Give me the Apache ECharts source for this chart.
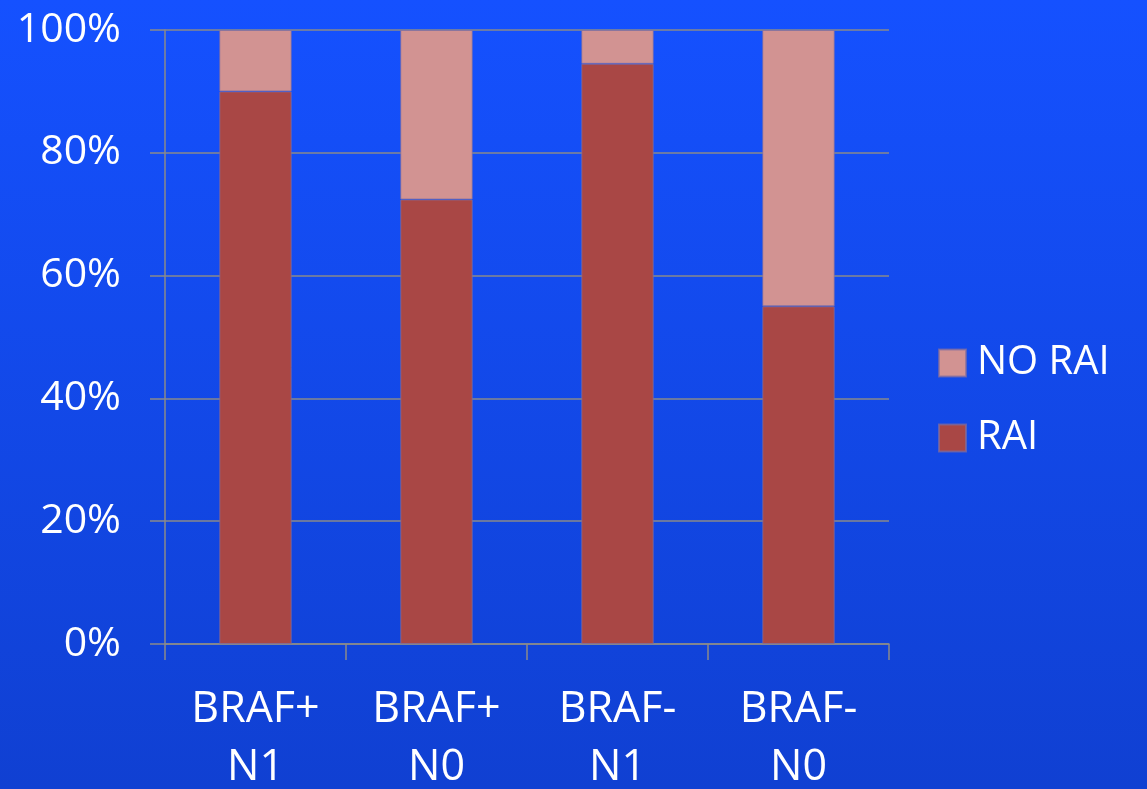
<!DOCTYPE html>
<html>
<head>
<meta charset="utf-8">
<script src="https://cdn.jsdelivr.net/npm/echarts@6/dist/echarts.min.js"></script>
<style>
  html, body { margin: 0; padding: 0; }
  #chart { width: 1147px; height: 789px; }
</style>
</head>
<body>
<div id="chart"></div>
<script>
// Share of patients given radioactive iodine, by BRAF status and nodal stage
const categories = ['BRAF+\nN1', 'BRAF+\nN0', 'BRAF-\nN1', 'BRAF-\nN0'];
const raiValues = [90.0, 72.4, 94.5, 55.0];
const noRaiValues = [10.0, 27.6, 5.5, 45.0];
const yTicks = [0, 20, 40, 60, 80, 100];

const gridColor = '#8a8a8a';
const textFont = '"Open Sans", "DejaVu Sans", sans-serif';

const chart = echarts.init(document.getElementById('chart'));
chart.setOption({
  animation: false,
  backgroundColor: new echarts.graphic.LinearGradient(0, 0, 0, 1, [
    { offset: 0, color: '#1551ff' },
    { offset: 1, color: '#1040d2' }
  ]),
  grid: { left: 165, right: 258, top: 30, bottom: 145, containLabel: false, outerBoundsMode: 'none' },
  legend: {
    orient: 'vertical',
    left: 938,
    top: 343,
    padding: 0,
    itemWidth: 27,
    itemHeight: 27,
    itemGap: 35,
    icon: 'rect',
    data: ['NO RAI', 'RAI'],
    textStyle: { color: '#ffffff', fontSize: 40, fontFamily: textFont, padding: [0, 0, 0, 6] }
  },
  xAxis: {
    type: 'category',
    data: categories,
    boundaryGap: true,
    axisLine: { lineStyle: { color: gridColor, width: 1.5 } },
    axisTick: { show: true, length: 16, lineStyle: { color: gridColor, width: 1.5 } },
    axisLabel: {
      color: '#ffffff',
      fontSize: 43,
      fontFamily: textFont,
      lineHeight: 58,
      margin: 37
    }
  },
  yAxis: {
    type: 'value',
    min: 0,
    max: 100,
    interval: 20,
    axisLine: { show: true, lineStyle: { color: gridColor, width: 1.5 } },
    axisTick: { show: true, length: 15, lineStyle: { color: gridColor, width: 1.5 } },
    splitLine: { show: true, lineStyle: { color: gridColor, width: 1.5 } },
    axisLabel: {
      color: '#ffffff',
      fontSize: 41,
      fontFamily: textFont,
      margin: 44,
      formatter: v => (yTicks.includes(v) ? v + '%' : '')
    }
  },
  series: [
    {
      name: 'RAI',
      type: 'bar',
      stack: 'total',
      barWidth: '40%',
      data: raiValues,
      itemStyle: { color: '#a94745', borderColor: 'rgba(130,110,160,0.7)', borderWidth: 1 }
    },
    {
      name: 'NO RAI',
      type: 'bar',
      stack: 'total',
      barWidth: '40%',
      data: noRaiValues,
      itemStyle: { color: '#d29392', borderColor: 'rgba(130,110,160,0.7)', borderWidth: 1 }
    }
  ]
});
</script>
</body>
</html>
